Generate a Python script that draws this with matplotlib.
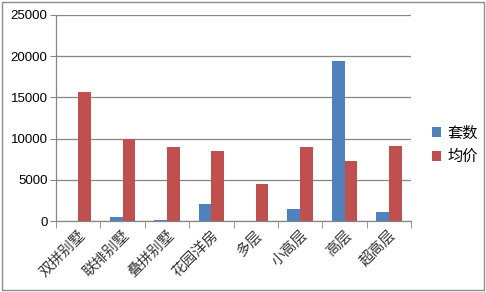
import numpy as np
import matplotlib.pyplot as plt
from matplotlib.patches import Rectangle

plt.rcParams['font.family'] = ['Noto Sans CJK SC', 'DejaVu Sans']

categories = ['双拼别墅', '联排别墅', '叠拼别墅', '花园洋房', '多层', '小高层', '高层', '超高层']
counts = [0, 500, 150, 2100, 0, 1500, 19350, 1100]      # 套数
prices = [15700, 9900, 9000, 8550, 4500, 9000, 7300, 9100]  # 均价
yticks = [0, 5000, 10000, 15000, 20000, 25000]

blue = '#4F81BD'
red = '#C0504D'

fig = plt.figure(figsize=(4.86, 2.92), dpi=100)
ax = fig.add_axes([0.115, 0.243, 0.731, 0.706])

x = np.arange(len(categories))
w = 0.286
ax.bar(x - w / 2, counts, w, color=blue, label='套数', zorder=3)
ax.bar(x + w / 2, prices, w, color=red, label='均价', zorder=3)

ax.set_xlim(-0.5, len(categories) - 0.5)
ax.set_ylim(0, 25000)
ax.set_yticks(yticks)
ax.set_yticklabels([str(v) for v in yticks], fontsize=9.5, family='Liberation Sans')
ax.yaxis.grid(True, color='#868686', linewidth=0.9, zorder=0)

# category labels in the middle, tick marks between categories
ax.set_xticks(x)
ax.set_xticklabels(categories, rotation=45, ha='right', rotation_mode='anchor',
                   fontsize=10.5, color='#333333')
ax.tick_params(axis='x', length=0, pad=5)
ax.set_xticks(np.arange(-0.5, len(categories)), minor=True)
ax.tick_params(axis='x', which='minor', length=5, color='#868686')
ax.tick_params(axis='y', length=4, color='#868686', pad=2)

for s in ['top', 'right']:
    ax.spines[s].set_visible(False)
for s in ['left', 'bottom']:
    ax.spines[s].set_color('#868686')
    ax.spines[s].set_linewidth(0.9)

ax.legend(loc='center left', bbox_to_anchor=(1.02, 0.37), frameon=False,
          fontsize=11, handlelength=0.6, handleheight=0.6, handletextpad=0.4,
          labelspacing=0.45)

# outer chart border
fig.patches.append(Rectangle((0.004, 0.008), 0.992, 0.985, transform=fig.transFigure,
                             fill=False, edgecolor='#8c8c8c', linewidth=1))

fig.savefig('out.png', dpi=100)
